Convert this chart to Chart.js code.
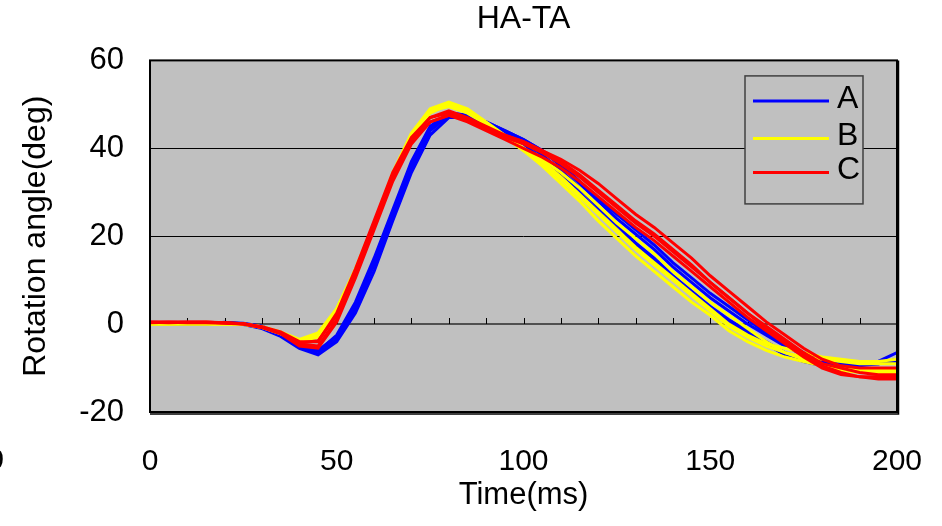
<!DOCTYPE html>
<html>
<head>
<meta charset="utf-8">
<script src="https://cdn.jsdelivr.net/npm/chart.js@4.4.0/dist/chart.umd.min.js"></script>
<style>
  body { margin: 0; background: #fff; }
  #wrap { width: 942px; height: 526px; }
</style>
</head>
<body>
<div id="wrap"><canvas id="canvas"></canvas></div>
<script>
// time axis (ms), one sample every 5 ms
var time = [0, 5, 10, 15, 20, 25, 30, 35, 40, 45, 50, 55, 60, 65, 70, 75, 80, 85, 90, 95, 100,
  105, 110, 115, 120, 125, 130, 135, 140, 145, 150, 155, 160, 165, 170, 175, 180, 185, 190, 195, 200];

var yTicks = [-20, 0, 20, 40, 60];
var xTicks = [0, 50, 100, 150, 200];

// group A (blue)
var a1 = [0, 0, 0, 0, 0.3, 0, -0.8, -2.6, -5.2, -6.8, -3.5, 3.5, 13.5, 24.5, 35.5, 44, 47.5, 47, 45.5, 43.5, 41.5, 38.5, 35, 31, 26.5, 22.5, 18.5, 15, 11, 7.5, 4, 1, -1.5, -4, -6.5, -8, -9, -9.5, -9, -8.5, -6.5];
var a2 = [0.2, 0.2, 0.1, 0, 0.4, 0.1, -0.6, -2.3, -4.8, -6.2, -2.5, 5, 15, 26, 37, 45, 48, 47.5, 46, 44, 42, 39.5, 36.5, 32.5, 28.5, 25, 21.5, 18, 14, 10.5, 7, 4, 1, -2, -4.5, -6.5, -8, -8.5, -9, -9, -8.5];
var a3 = [0, 0, 0, 0.1, 0.2, -0.1, -1, -2.8, -5.5, -7, -4, 2.5, 12, 23.5, 34.5, 43, 47, 47, 45, 43, 41, 37.5, 34, 30, 25.5, 21.5, 18, 14.5, 10.5, 7, 3.5, 0.5, -2, -4.5, -7, -8.5, -9.5, -10, -9.5, -9, -8];
var a4 = [0.1, 0.1, 0.1, 0.1, 0.3, 0.2, -0.5, -2.2, -4.5, -6, -2.8, 4.5, 14.5, 25.5, 36.5, 44.5, 48, 47.5, 46, 44, 42, 39.5, 36, 32, 28, 24, 20.5, 17, 13, 9.5, 6, 3, 0, -2.5, -5, -7, -8.5, -9, -9, -9, -8.5];

// group B (yellow)
var b1 = [0, 0, 0, 0, 0.1, 0, -0.6, -1.8, -3.5, -2, 3.5, 12.5, 23, 34.5, 43.5, 49, 50.5, 49, 46, 43, 40, 37, 33.5, 29.5, 25.5, 21.5, 17.5, 14, 10.5, 7, 3.5, 0, -2.5, -4.5, -5.5, -6.5, -7.5, -8, -8.5, -8.5, -8];
var b2 = [0, 0, 0.2, 0.4, 0.2, 0, -0.8, -2.2, -4, -3, 2.5, 11.5, 22, 33.5, 42.5, 48, 50, 48.5, 45.5, 42.5, 39.5, 36, 32, 28, 23.5, 19.5, 15.5, 12, 8.5, 5, 2, -1.5, -4, -6, -7.5, -8.5, -9.5, -10, -10.5, -10.5, -10.5];
var b3 = [0, 0.1, 0, 0, 0, -0.1, -0.7, -2, -4, -2.5, 3, 12, 22.5, 34, 43, 48.5, 50, 48.5, 45.5, 42.5, 39.5, 36.5, 33, 29, 25, 21, 17, 13.5, 10, 6.5, 3, -0.5, -3, -5, -6.5, -7.5, -8, -8.5, -9, -9, -9];
var b4 = [0, 0, 0, 0, 0.1, 0, -0.6, -1.9, -3.7, -2.3, 3.5, 12.5, 23, 34, 43, 48.5, 49.5, 48, 45.5, 42.5, 40, 37.5, 34.5, 31, 27, 23, 19.5, 16, 12, 8.5, 5, 2, -1, -4, -6.5, -8, -9.5, -10.5, -11, -11, -11];

// group C (red)
var c1 = [0.5, 0.5, 0.5, 0.5, 0.3, 0, -0.7, -2, -4.5, -5, 1, 11, 22, 33, 41.5, 46, 47.5, 46.5, 44.5, 42.5, 41, 39, 36.5, 33.5, 30, 26.5, 23, 20, 16.5, 13, 9.5, 6, 2.5, -1, -4, -7, -9.5, -11, -12, -12.5, -12.5];
var c2 = [0.4, 0.4, 0.4, 0.4, 0.3, 0.1, -0.6, -1.8, -4, -4, 2.5, 12.5, 23.5, 34.5, 42.5, 47, 48, 46.5, 44.5, 43, 41.5, 39.5, 37.5, 35, 32, 28.5, 25, 22, 18.5, 15, 11, 7.5, 4, 0.5, -2.5, -5.5, -8, -9.5, -10, -10, -10];
var c3 = [0.3, 0.4, 0.3, 0.3, 0.2, 0, -0.8, -2.2, -5, -5.5, 0.5, 10.5, 21.5, 32.5, 41, 46, 47.5, 46, 44, 42, 40, 38, 35.5, 32.5, 29, 25.5, 22, 19, 15.5, 12, 8.5, 5, 1.5, -1.5, -4.5, -7.5, -10, -11.5, -12, -12, -12];
var c4 = [0.4, 0.3, 0.4, 0.4, 0.3, 0.1, -0.7, -2, -4.3, -3.8, 2, 12, 23, 34, 42, 47, 48.5, 47, 45, 43, 41.5, 39.5, 37, 34, 30.5, 27, 23.5, 20.5, 17, 13.5, 9.5, 6, 2.5, -0.5, -3.5, -6.5, -9, -10, -11, -11.5, -11.5];

var groups = [
  { label: 'A', color: '#0000ff', order: 3, trials: [a1, a2, a3, a4] },
  { label: 'B', color: '#ffff00', order: 2, trials: [b1, b2, b3, b4] },
  { label: 'C', color: '#ff0000', order: 1, trials: [c1, c2, c3, c4] }
];

var FONT = '"Liberation Sans", Arial, sans-serif';

function toPoints(vals) {
  return vals.map(function (v, i) { return { x: time[i], y: v }; });
}

var datasets = [];
groups.forEach(function (g) {
  g.trials.forEach(function (t) {
    datasets.push({
      label: g.label,
      data: toPoints(t),
      borderColor: g.color,
      borderWidth: 3,
      pointRadius: 0,
      tension: 0,
      order: g.order
    });
  });
});

// gray plot area, zero axis with small ticks, frame and legend box
var plotDeco = {
  id: 'plotDeco',
  beforeDraw(chart) {
    var a = chart.chartArea, ctx = chart.ctx;
    ctx.save();
    ctx.fillStyle = '#c0c0c0';
    ctx.fillRect(a.left, a.top, a.right - a.left, a.bottom - a.top);
    ctx.restore();
  },
  beforeDatasetsDraw(chart) {
    var a = chart.chartArea, ctx = chart.ctx;
    var xs = chart.scales.x, ys = chart.scales.y;
    var y0 = Math.round(ys.getPixelForValue(0));
    ctx.save();
    ctx.strokeStyle = '#505050';
    ctx.lineWidth = 2;
    ctx.beginPath();
    ctx.moveTo(a.left, y0);
    ctx.lineTo(a.right, y0);
    ctx.stroke();
    ctx.strokeStyle = '#000';
    ctx.lineWidth = 1;
    for (var t = 10; t < 200; t += 10) {
      var px = Math.round(xs.getPixelForValue(t)) + 0.5;
      ctx.beginPath();
      ctx.moveTo(px, y0);
      ctx.lineTo(px, y0 - 6);
      ctx.stroke();
    }
    ctx.restore();
  },
  afterDraw(chart) {
    var a = chart.chartArea, ctx = chart.ctx;
    ctx.save();
    // frame
    ctx.strokeStyle = '#000';
    ctx.lineWidth = 2;
    ctx.strokeRect(a.left, a.top, a.right - a.left, a.bottom - a.top);
    ctx.lineWidth = 1.5;
    ctx.beginPath();
    ctx.moveTo(a.right + 1.5, a.top);
    ctx.lineTo(a.right + 1.5, a.bottom + 2);
    ctx.lineTo(a.left, a.bottom + 2);
    ctx.stroke();

    // legend
    var bx = a.right - 152, by = a.top + 15.5, bw = 118, bh = 128;
    ctx.fillStyle = '#c0c0c0';
    ctx.fillRect(bx, by, bw, bh);
    ctx.strokeStyle = '#404040';
    ctx.lineWidth = 1.5;
    ctx.strokeRect(bx, by, bw, bh);
    var rows = [25, 62.5, 96.5];
    ctx.font = '32px ' + FONT;
    ctx.textBaseline = 'middle';
    ctx.textAlign = 'left';
    groups.forEach(function (g, i) {
      var ly = by + rows[i];
      ctx.strokeStyle = g.color;
      ctx.lineWidth = 3;
      ctx.beginPath();
      ctx.moveTo(bx + 8, ly);
      ctx.lineTo(bx + 84, ly);
      ctx.stroke();
      ctx.fillStyle = '#000';
      ctx.fillText(g.label, bx + 92, ly - 2);
    });

    // clipped label at the far left edge
    ctx.font = '30px ' + FONT;
    ctx.textAlign = 'right';
    ctx.fillText('-50', 4, 461);
    ctx.restore();
  }
};

const ctx = document.getElementById('canvas').getContext('2d');
const myChart = new Chart(ctx, {
  type: 'line',
  data: { datasets: datasets },
  options: {
    responsive: true,
    maintainAspectRatio: false,
    animation: false,
    devicePixelRatio: 1,
    layout: { padding: { left: 0, right: 45, top: 0, bottom: 0 } },
    plugins: {
      legend: { display: false },
      tooltip: { enabled: false },
      title: {
        display: true,
        text: 'HA-TA',
        color: '#000',
        fullSize: false,
        font: { family: FONT, size: 32, weight: 'normal' },
        padding: { top: 0, bottom: 22 }
      }
    },
    scales: {
      x: {
        type: 'linear',
        min: 0,
        max: 200,
        afterBuildTicks(scale) {
          scale.ticks = xTicks.map(function (v) { return { value: v }; });
        },
        afterFit(scale) {
          scale.height = 114;
          scale.paddingLeft = 0;
          scale.paddingRight = 0;
        },
        grid: { display: false, drawTicks: false },
        border: { display: false },
        ticks: {
          color: '#000',
          padding: 32,
          maxRotation: 0,
          font: { family: FONT, size: 30 }
        },
        title: {
          display: true,
          text: 'Time(ms)',
          color: '#000',
          font: { family: FONT, size: 31 },
          padding: { top: 0, bottom: 12 }
        }
      },
      y: {
        min: -20,
        max: 60,
        afterBuildTicks(scale) {
          scale.ticks = yTicks.map(function (v) { return { value: v }; });
        },
        afterFit(scale) { scale.width = 150; },
        grid: {
          drawTicks: false,
          lineWidth: 1,
          color: function (c) {
            return (c.tick && (c.tick.value === 20 || c.tick.value === 40)) ? '#000' : 'rgba(0,0,0,0)';
          }
        },
        border: { display: false },
        ticks: {
          color: '#000',
          padding: 26,
          font: { family: FONT, size: 31 }
        },
        title: {
          display: true,
          text: 'Rotation angle(deg)',
          color: '#000',
          font: { family: FONT, size: 32 },
          padding: { top: 17, bottom: 0 }
        }
      }
    }
  },
  plugins: [plotDeco]
});
</script>
</body>
</html>
